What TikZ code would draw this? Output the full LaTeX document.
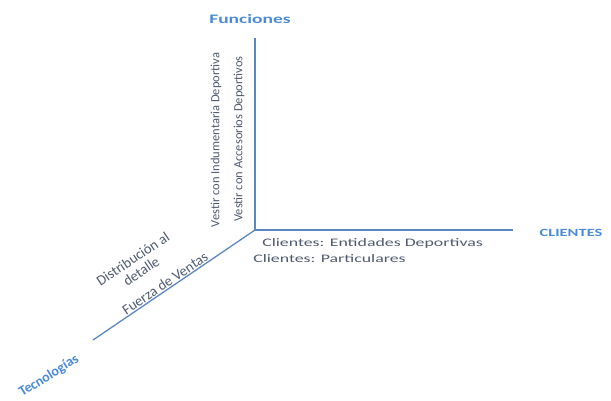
\documentclass[tikz,border=0pt]{standalone}
\usepackage{fontspec}
\setmainfont{Carlito}
\definecolor{axiscol}{HTML}{5A86C2}
\definecolor{labcol}{HTML}{4A8AD6}
\definecolor{txtcol}{HTML}{4E5A6E}
\begin{document}
\begin{tikzpicture}[x=1pt,y=-1pt,
  axisline/.style={draw=axiscol,line width=1.3pt},
  axislabel/.style={text=labcol,font=\bfseries\fontsize{13}{15}\selectfont,inner sep=0pt},
  hlabel/.style={text=txtcol,font=\fontsize{11.5}{13}\selectfont,inner sep=0pt,xscale=1.55},
  vlabel/.style={text=txtcol,font=\fontsize{12.5}{14}\selectfont,inner sep=0pt,rotate=90},
  dlabel/.style={text=txtcol,font=\fontsize{14.5}{15}\selectfont,inner sep=0pt,rotate=34,align=center}]
\useasboundingbox (0,0) rectangle (611,400);
\coordinate (O) at (255,230);
\coordinate (top) at (255,38);
\coordinate (right) at (513,230);
\coordinate (bl) at (93,340);
\draw[axisline] (top) -- (O) -- (right);
\draw[axisline] (O) -- (bl);
\node[axislabel,xscale=1.5] (fun) at (250,19) {Funciones};
\node[axislabel,xscale=1.5,font=\bfseries\fontsize{11}{13}\selectfont] (cli) at (571,233) {CLIENTES};
\node[axislabel,rotate=32,font=\bfseries\fontsize{14}{15}\selectfont] (tec) at (49,376) {Tecnologías};
\node[vlabel] (v1) at (216,140) {Vestir con Indumentaria Deportiva};
\node[vlabel] (v2) at (239,139) {Vestir con Accesorios Deportivos};
\node[hlabel,anchor=west] (c1) at (262,243) {Clientes: Entidades Deportivas};
\node[hlabel,anchor=west] (c2) at (253,259) {Clientes: Particulares};
\node[dlabel] (d1) at (137,265) {Distribución al\\detalle};
\node[dlabel] (d2) at (165,283) {Fuerza de Ventas};
\end{tikzpicture}
\end{document}
